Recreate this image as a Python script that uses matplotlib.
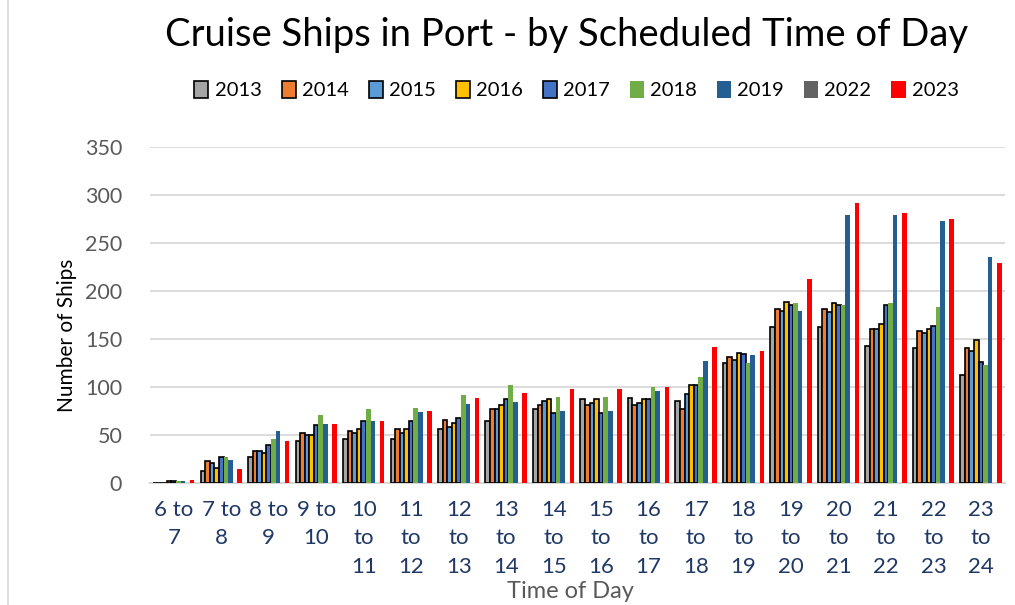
import matplotlib
matplotlib.use("Agg")
import matplotlib.pyplot as plt
import numpy as np
from matplotlib.patches import Patch
from matplotlib.lines import Line2D

categories = ["6 to\n7", "7 to\n8", "8 to\n9", "9 to\n10", "10\nto\n11", "11\nto\n12",
              "12\nto\n13", "13\nto\n14", "14\nto\n15", "15\nto\n16", "16\nto\n17",
              "17\nto\n18", "18\nto\n19", "19\nto\n20", "20\nto\n21", "21\nto\n22",
              "22\nto\n23", "23\nto\n24"]

y2013 = [0, 12, 27, 44, 46, 46, 56, 65, 77, 87, 89, 85, 125, 162, 162, 143, 141, 112]
y2014 = [0, 23, 33, 52, 54, 56, 66, 77, 81, 81, 81, 77, 131, 181, 181, 160, 158, 141]
y2015 = [0, 21, 33, 50, 52, 52, 58, 77, 85, 83, 83, 93, 128, 179, 178, 160, 156, 137]
y2016 = [2, 16, 31, 50, 56, 56, 62, 81, 87, 87, 87, 102, 135, 189, 187, 166, 160, 149]
y2017 = [2, 27, 40, 60, 65, 65, 68, 87, 73, 73, 87, 102, 134, 185, 185, 185, 164, 126]
y2018 = [2, 27, 46, 71, 77, 78, 92, 102, 90, 90, 100, 110, 125, 187, 185, 187, 183, 123]
y2019 = [2, 24, 54, 61, 65, 74, 82, 84, 75, 75, 96, 127, 133, 179, 279, 279, 273, 235]
y2022 = [0] * 18
y2023 = [3, 15, 44, 61, 65, 75, 88, 94, 98, 98, 100, 142, 137, 212, 292, 281, 275, 229]

series = ["2013", "2014", "2015", "2016", "2017", "2018", "2019", "2022", "2023"]
values = [y2013, y2014, y2015, y2016, y2017, y2018, y2019, y2022, y2023]
colors = ["#A5A5A5", "#ED7D31", "#5B9BD5", "#FFC000", "#4472C4", "#70AD47",
          "#255E91", "#636363", "#FF0000"]
edged = [True, True, True, True, True, False, False, False, False]

font = ["Lato", "DejaVu Sans"]
plt.rcParams["font.family"] = font

fig = plt.figure(figsize=(10.15, 6.05), dpi=100)
ax = fig.add_axes([0.1478, 0.2017, 0.842, 0.5554])

x = np.arange(len(categories))
n = len(series)
group = 0.87
bw = group / n
for i, (s, v, c, e) in enumerate(zip(series, values, colors, edged)):
    off = -group / 2 + bw * (i + 0.5)
    ax.bar(x + off, v, width=bw, color=c,
           edgecolor="black" if e else "none", linewidth=1.2 if e else 0, zorder=3)

ax.set_xlim(-0.5, len(categories) - 0.5)
ax.set_ylim(0, 350)
ax.set_yticks(range(0, 351, 50))
ax.set_xticks(x)
ax.set_xticklabels(categories, fontsize=16, color="#1F3864", linespacing=1.55)
ax.tick_params(axis="x", length=0, pad=12)
ax.tick_params(axis="y", length=0, pad=20, labelsize=15.5, labelcolor="#595959")
ax.grid(axis="y", color="#D9D9D9", linewidth=1.3, zorder=0)
for sp in ["top", "right", "left"]:
    ax.spines[sp].set_visible(False)
ax.spines["bottom"].set_color("#D9D9D9")
ax.spines["bottom"].set_linewidth(1.5)

ax.set_ylabel("Number of Ships", fontsize=15, color="black")
ax.yaxis.set_label_coords(-0.086, 0.44)
fig.text(0.562, 0.022, "Time of Day", ha="center", va="center", fontsize=17, color="#595959")

fig.text(0.558, 0.942, "Cruise Ships in Port - by Scheduled Time of Day",
         ha="center", va="center", fontsize=27.5, color="black")

handles = [Patch(facecolor=c, edgecolor="black" if e else c, linewidth=1.2 if e else 0)
           for c, e in zip(colors, edged)]
fig.legend(handles, series, loc="center", bbox_to_anchor=(0.568, 0.851), ncol=9,
           frameon=False, fontsize=14.5, handlelength=0.7, handleheight=0.9,
           handletextpad=0.3, columnspacing=1.0)

fig.add_artist(Line2D([0.008, 0.008], [0, 1], transform=fig.transFigure,
                      color="#D9D9D9", linewidth=1.2))

fig.savefig("out.png", dpi=100)
